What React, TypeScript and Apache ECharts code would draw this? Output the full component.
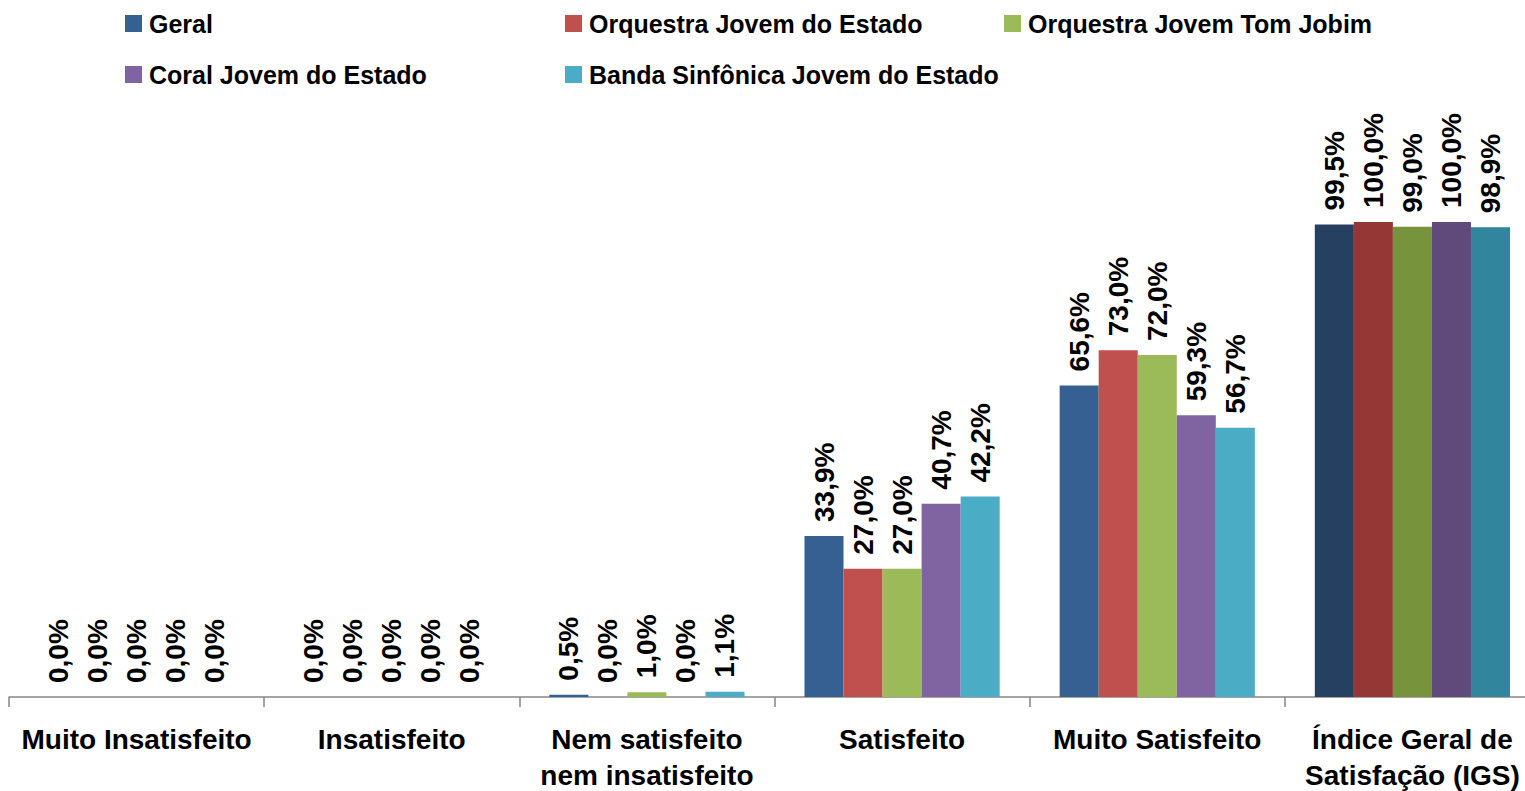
import React, { useEffect, useRef } from "react";
import * as echarts from "echarts";

const categories = [
  "Muito Insatisfeito",
  "Insatisfeito",
  "Nem satisfeito\nnem insatisfeito",
  "Satisfeito",
  "Muito Satisfeito",
  "Índice Geral de\nSatisfação (IGS)",
];

const seriesNames = [
  "Geral",
  "Orquestra Jovem do Estado",
  "Orquestra Jovem Tom Jobim",
  "Coral Jovem do Estado",
  "Banda Sinfônica Jovem do Estado",
];

const geral = [0.0, 0.0, 0.5, 33.9, 65.6, 99.5];
const orquestraEstado = [0.0, 0.0, 0.0, 27.0, 73.0, 100.0];
const orquestraTomJobim = [0.0, 0.0, 1.0, 27.0, 72.0, 99.0];
const coral = [0.0, 0.0, 0.0, 40.7, 59.3, 100.0];
const banda = [0.0, 0.0, 1.1, 42.2, 56.7, 98.9];

const seriesValues = [geral, orquestraEstado, orquestraTomJobim, coral, banda];

const baseColors = ["#376092", "#C0504D", "#9BBB59", "#8064A2", "#4BACC6"];
const igsColors = ["#254061", "#953735", "#77933C", "#604A7B", "#31859C"];

const FONT = '"Liberation Sans", Arial, sans-serif';

export default function App() {
  const ref = useRef<HTMLDivElement>(null);

  useEffect(() => {
    if (!ref.current) return;
    const chart = echarts.init(ref.current, undefined, { renderer: "svg" });

    const legendPos = [
      { left: 125, top: 11 },
      { left: 565, top: 11 },
      { left: 1004, top: 11 },
      { left: 125, top: 62 },
      { left: 565, top: 62 },
    ];

    const option: any = {
      animation: false,
      backgroundColor: "#ffffff",
      legend: seriesNames.map((name, i) => ({
        data: [name],
        left: legendPos[i].left,
        top: legendPos[i].top,
        padding: 0,
        icon: "rect",
        itemWidth: 17,
        itemHeight: 17,
        textStyle: {
          fontFamily: FONT,
          fontWeight: "bold",
          fontSize: 25,
          color: "#000",
          padding: [0, 0, 0, 2],
        },
      })),
      grid: {
        left: 9,
        right: -15,
        top: 222,
        bottom: 94,
        containLabel: false,
        outerBoundsMode: "none",
      },
      xAxis: {
        type: "category",
        data: categories,
        axisLine: { show: true, lineStyle: { color: "#868686", width: 1.5 } },
        axisTick: { show: true, length: 10, lineStyle: { color: "#868686", width: 1.5 } },
        axisLabel: {
          interval: 0,
          margin: 24,
          fontFamily: FONT,
          fontWeight: "bold",
          fontSize: 28,
          lineHeight: 36,
          color: "#000",
        },
      },
      yAxis: { type: "value", min: 0, max: 100, show: false },
      series: seriesNames.map((name, i) => ({
        name,
        type: "bar",
        barGap: "0%",
        barCategoryGap: "23.5%",
        itemStyle: { color: baseColors[i] },
        data: seriesValues[i].map((v, j) =>
          j === categories.length - 1
            ? { value: v, itemStyle: { color: igsColors[i] } }
            : v
        ),
        label: {
          show: true,
          position: "top",
          rotate: 90,
          align: "left",
          verticalAlign: "middle",
          distance: 14,
          fontFamily: FONT,
          fontWeight: "bold",
          fontSize: 28,
          color: "#000",
          formatter: (p: any) => Number(p.value).toFixed(1).replace(".", ",") + "%",
        },
      })),
    };

    chart.setOption(option);
    return () => chart.dispose();
  }, []);

  return (
    <div
      ref={ref}
      style={{ position: "absolute", left: 0, top: 0, width: 1525, height: 791, background: "#fff" }}
    />
  );
}
